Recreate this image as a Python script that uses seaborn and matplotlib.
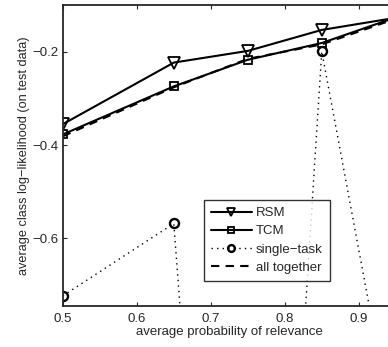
import numpy as np
import pandas as pd
import seaborn as sns
import matplotlib
matplotlib.use('Agg')
import matplotlib.pyplot as plt

# данные
relevance = [0.5, 0.65, 0.75, 0.85, 0.95]
rsm = [-0.355, -0.223, -0.198, -0.153, -0.127]
tcm = [-0.377, -0.274, -0.217, -0.181, -0.126]
single_task = [-0.723, -0.568, -2.70, -0.199, -1.05]
all_together = [-0.381, -0.276, -0.215, -0.184, -0.129]

sns.set_style('ticks')
plt.rcParams['font.family'] = ['Liberation Sans', 'DejaVu Sans']
plt.rcParams['xtick.direction'] = 'in'
plt.rcParams['ytick.direction'] = 'in'

fs = 9.5

fig = plt.figure(figsize=(3.88, 3.47), dpi=100)
# ось шире фигуры: правый край обрезан, как на исходной картинке
ax = fig.add_axes([0.162, 0.118, 0.858, 0.867])

sns.lineplot(x=relevance, y=rsm, ax=ax, color='black', lw=1.5, marker='v',
             markersize=8, markerfacecolor='none', markeredgecolor='black',
             markeredgewidth=1.3, label='RSM')
sns.lineplot(x=relevance, y=tcm, ax=ax, color='black', lw=1.5, marker='s',
             markersize=6, markerfacecolor='none', markeredgecolor='black',
             markeredgewidth=1.3, label='TCM')
sns.lineplot(x=relevance, y=single_task, ax=ax, color='black', lw=1.0,
             dashes=False, marker='o', markersize=6.5, markerfacecolor='none',
             markeredgecolor='black', markeredgewidth=1.7, label='single\u2212task')
sns.lineplot(x=relevance, y=all_together, ax=ax, color='black', lw=1.5,
             label='all together')
ax.lines[2].set_dashes((1, 3))
ax.lines[3].set_dashes((4, 3))

ax.set_xlim(0.5, 0.95)
ax.set_ylim(-0.745, -0.1)
ax.set_xticks([0.5, 0.6, 0.7, 0.8, 0.9])
ax.set_yticks([-0.6, -0.4, -0.2])
ax.set_xticklabels(['0.5', '0.6', '0.7', '0.8', '0.9'])
ax.set_yticklabels(['\u22120.6', '\u22120.4', '\u22120.2'])
ax.tick_params(labelsize=fs, top=True, right=True, length=3, width=0.8)
ax.tick_params(axis='x', pad=5)
ax.tick_params(axis='y', pad=3)
for s in ax.spines.values():
    s.set_linewidth(1.3)

ax.set_xlabel('average probability of relevance', fontsize=fs, labelpad=1)
ax.set_ylabel('average class log\u2212likelihood (on test data)', fontsize=9.2, labelpad=2)

leg = ax.legend(loc='lower left', bbox_to_anchor=(0.423, 0.083), fontsize=fs,
                frameon=True, fancybox=False, edgecolor='black',
                handlelength=3.1, borderpad=0.55, labelspacing=0.45,
                handletextpad=0.3, borderaxespad=0, markerscale=0.75)
leg.get_frame().set_linewidth(1.0)

fig.savefig('out.png', dpi=100)
